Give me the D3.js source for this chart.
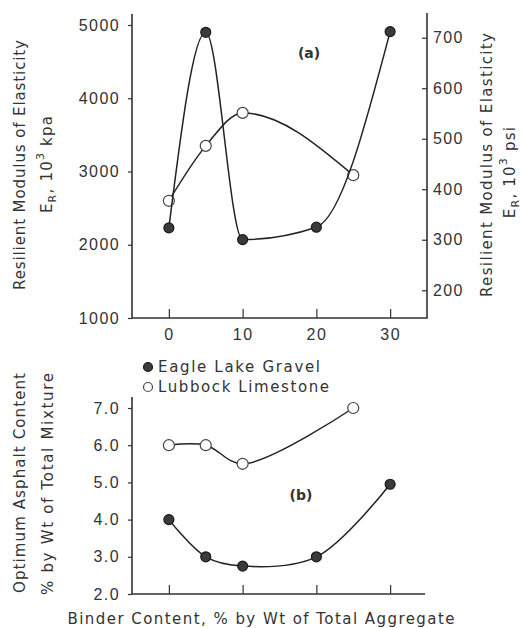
<!DOCTYPE html>
<html>
<head>
<meta charset="utf-8">
<script src="https://cdn.jsdelivr.net/npm/d3@7"></script>
<style>
  body { margin: 0; background: #fff; }
  svg { display: block; font-family: "DejaVu Sans", sans-serif; }
  .tick text { fill: #333; font-size: 16px; letter-spacing: 1.4px; }
  .tick line { stroke: #333; stroke-width: 1.2; }
</style>
</head>
<body>
<div id="chart"></div>
<script>
// binder content (% by wt of total aggregate)
const eagleBinder = [0, 5, 10, 20, 30];
const lubbockBinder = [0, 5, 10, 25];
// (a) resilient modulus, 10^3 kPa
const eagleModulus = [2230, 4900, 2070, 2240, 4910];
const lubbockModulus = [2600, 3350, 3800, 2950];
// (b) optimum asphalt content, % by wt of total mixture
const eagleAsphalt = [4.0, 3.0, 2.75, 3.0, 4.95];
const lubbockAsphalt = [6.0, 6.0, 5.5, 7.0];

const binderTicks = [0, 10, 20, 30];
const kpaTicks = [1000, 2000, 3000, 4000, 5000];
const psiTicks = [200, 300, 400, 500, 600, 700];
const asphaltTicks = [2, 3, 4, 5, 6, 7];
const KPA_PER_PSI = 6.895;

const W = 524, H = 628;
const ink = "#333";

const svg = d3.select("#chart").append("svg")
    .attr("width", W)
    .attr("height", H);

const x = d3.scaleLinear().domain([-5, 35]).range([132, 427]);
const yTop = d3.scaleLinear().domain([1000, 5000]).range([318, 25]);
const yPsi = d3.scaleLinear().domain([1000 / KPA_PER_PSI, 5000 / KPA_PER_PSI]).range([318, 25]);
const yBot = d3.scaleLinear().domain([2, 7]).range([594, 408]);

const eagleA = eagleBinder.map((b, i) => ({ b, v: eagleModulus[i] }));
const lubbockA = lubbockBinder.map((b, i) => ({ b, v: lubbockModulus[i] }));
const eagleB = eagleBinder.map((b, i) => ({ b, v: eagleAsphalt[i] }));
const lubbockB = lubbockBinder.map((b, i) => ({ b, v: lubbockAsphalt[i] }));

// ---- axes, panel (a)
svg.append("g")
    .attr("transform", "translate(132,0)")
    .call(d3.axisLeft(yTop).tickValues(kpaTicks).tickFormat(d3.format("d")).tickSize(4).tickPadding(8))
    .call(g => g.select(".domain").remove());

svg.append("g")
    .attr("transform", "translate(427,0)")
    .call(d3.axisRight(yPsi).tickValues(psiTicks).tickFormat(d3.format("d")).tickSize(-5).tickPadding(6))
    .call(g => g.select(".domain").remove());

svg.append("g")
    .attr("transform", "translate(0,318)")
    .call(d3.axisBottom(x).tickValues(binderTicks).tickSize(-9).tickPadding(11))
    .call(g => g.select(".domain").remove());

// frame lines of (a): left, bottom, right
svg.append("path")
    .attr("d", `M${x(-5)},14 V318 H${x(35)} V13`)
    .attr("fill", "none")
    .attr("stroke", ink)
    .attr("stroke-width", 1.6);

// ---- axes, panel (b)
svg.append("g")
    .attr("transform", "translate(132,0)")
    .call(d3.axisLeft(yBot).tickValues(asphaltTicks).tickFormat(d3.format(".1f")).tickSize(4).tickPadding(8))
    .call(g => g.select(".domain").remove());

svg.append("g")
    .attr("transform", "translate(0,594)")
    .call(d3.axisBottom(x).tickValues(binderTicks).tickSize(-9).tickFormat(""))
    .call(g => g.select(".domain").remove());

svg.append("path")
    .attr("d", `M${x(-5)},397 V594 H${x(35) - 2}`)
    .attr("fill", "none")
    .attr("stroke", ink)
    .attr("stroke-width", 1.6);

// ---- curves and markers
const lineA = d3.line().x(d => x(d.b)).y(d => yTop(d.v)).curve(d3.curveMonotoneX);
const lineB = d3.line().x(d => x(d.b)).y(d => yBot(d.v)).curve(d3.curveCatmullRom.alpha(0.5));

function series(data, line, y, filled) {
  svg.append("path")
      .datum(data)
      .attr("d", line)
      .attr("fill", "none")
      .attr("stroke", "#222")
      .attr("stroke-width", 1.5);
  svg.selectAll(null)
    .data(data)
    .enter().append("circle")
      .attr("cx", d => x(d.b))
      .attr("cy", d => y(d.v))
      .attr("r", filled ? 5 : 5.5)
      .attr("fill", filled ? "#3a3a3a" : "#fff")
      .attr("stroke", filled ? "#1a1a1a" : "#444")
      .attr("stroke-width", 1.2);
}
series(lubbockA, lineA, yTop, false);
series(eagleA, lineA, yTop, true);
series(lubbockB, lineB, yBot, false);
series(eagleB, lineB, yBot, true);

// ---- text
function label(txt, cx, cy, len, rotate, size) {
  const t = svg.append("text")
      .attr("transform", `translate(${cx},${cy})` + (rotate ? " rotate(-90)" : ""))
      .attr("text-anchor", "middle")
      .attr("dominant-baseline", "central")
      .attr("fill", ink)
      .style("font-size", (size || 15) + "px")
      .text(txt);
  if (len) t.attr("textLength", len).attr("lengthAdjust", "spacing");
  return t;
}

// E_R, 10^3 unit
function modulusUnit(unit, cx, cy) {
  const t = svg.append("text")
      .attr("transform", `translate(${cx},${cy}) rotate(-90)`)
      .attr("text-anchor", "middle")
      .attr("dominant-baseline", "central")
      .attr("fill", ink)
      .style("font-size", "15px")
      .style("letter-spacing", "1.2px");
  t.append("tspan").text("E");
  t.append("tspan").attr("dy", 5).style("font-size", "11px").text("R");
  t.append("tspan").attr("dy", -5).text(", 10");
  t.append("tspan").attr("dy", -7).style("font-size", "11px").text("3");
  t.append("tspan").attr("dy", 7).text(" " + unit);
}

label("Resilient Modulus of Elasticity", 20, 165, 250, true);
modulusUnit("kpa", 47, 164);
label("Resilient Modulus of Elasticity", 487, 165, 264, true);
modulusUnit("psi", 510, 172);

label("Optimum Asphalt Content", 20, 483, 220, true);
label("% by Wt of Total Mixture", 48, 484, 222, true);
label("Binder Content, % by Wt of Total Aggregate", 261, 619, 387, false);

label("(a)", 309, 53, null, false, 14).style("font-weight", "bold");
label("(b)", 301, 495, null, false, 14).style("font-weight", "bold");

// legend
const legend = [
  { name: "Eagle Lake Gravel", filled: true, y: 367, len: 162 },
  { name: "Lubbock Limestone", filled: false, y: 387, len: 171 }
];
legend.forEach(d => {
  svg.append("circle")
      .attr("cx", 148).attr("cy", d.y).attr("r", 4.5)
      .attr("fill", d.filled ? "#3a3a3a" : "#fff")
      .attr("stroke", d.filled ? "#1a1a1a" : "#444")
      .attr("stroke-width", 1.2);
  svg.append("text")
      .attr("x", 158).attr("y", d.y)
      .attr("dominant-baseline", "central")
      .attr("fill", ink)
      .attr("textLength", d.len).attr("lengthAdjust", "spacing")
      .style("font-size", "15px")
      .text(d.name);
});
</script>
</body>
</html>
